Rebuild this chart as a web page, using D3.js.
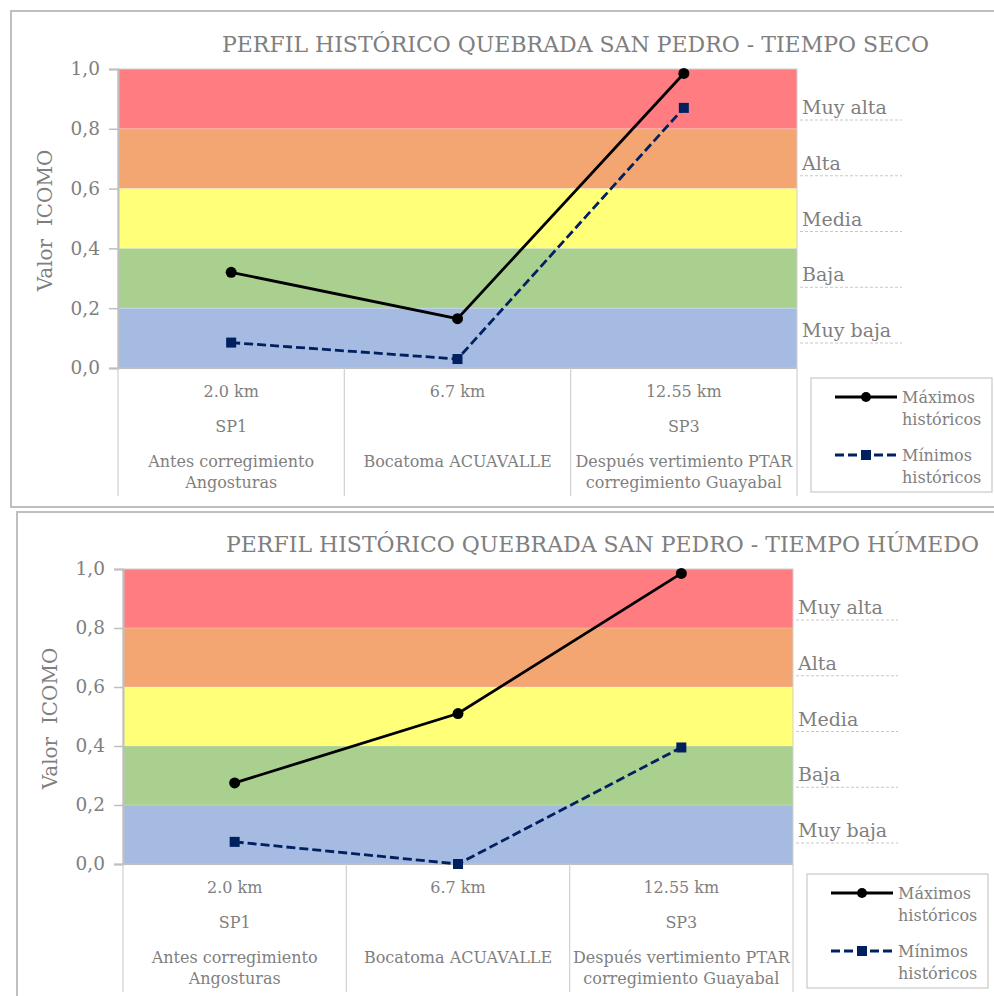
<!DOCTYPE html>
<html>
<head>
<meta charset="utf-8">
<script src="https://cdn.jsdelivr.net/npm/d3@7"></script>
<style>
  html, body { margin: 0; padding: 0; background: #ffffff; }
  svg { display: block; }
  text { font-family: "DejaVu Serif", "Liberation Serif", serif; }
</style>
</head>
<body>
<svg id="chart" width="994" height="996"></svg>
<script>
// ---------------- DATA ----------------
const categories = ["SP1", "SP2", "SP3"];
const distanceLabels = ["2.0 km", "6.7 km", "12.55 km"];
const codeLabels = ["SP1", "", "SP3"];
const siteLabels = [
  ["Antes corregimiento", "Angosturas"],
  ["Bocatoma ACUAVALLE"],
  ["Después vertimiento PTAR", "corregimiento Guayabal"]
];

const secoMax = [0.32, 0.165, 0.985];
const secoMin = [0.085, 0.03, 0.87];
const humedoMax = [0.275, 0.51, 0.985];
const humedoMin = [0.075, 0.0, 0.395];

const bandBreaks = [0.8, 0.6, 0.4, 0.2, 0.0];
const bandTops = [1.0, 0.8, 0.6, 0.4, 0.2];
const bandLabels = ["Muy alta", "Alta", "Media", "Baja", "Muy baja"];
const bandColors = ["#ff7c80", "#f4a672", "#ffff78", "#a9d08e", "#a6bbe1"];

const yTicks = [0, 0.2, 0.4, 0.6, 0.8, 1.0];
const seriesNames = [["Máximos", "históricos"], ["Mínimos", "históricos"]];
const titles = [
  "PERFIL HISTÓRICO QUEBRADA SAN PEDRO - TIEMPO SECO",
  "PERFIL HISTÓRICO QUEBRADA SAN PEDRO - TIEMPO HÚMEDO"
];
const yAxisTitle = "Valor  ICOMO";

// ---------------- LAYOUT ----------------
const panels = [
  { box: {x: 11, y: 11, w: 1100, h: 496}, plot: {l: 118, r: 797, t: 69, b: 368},
    title: titles[0], titleX: 222, titleY: 52, max: secoMax, min: secoMin },
  { box: {x: 17, y: 512, w: 1100, h: 600}, plot: {l: 123, r: 793, t: 569, b: 864},
    title: titles[1], titleX: 226, titleY: 552, max: humedoMax, min: humedoMin }
];

const gray = "#7f7f7f";
const lineGray = "#bfbfbf";
const svg = d3.select("#chart");

panels.forEach(p => {
  const g = svg.append("g");
  const P = p.plot;

  g.append("rect")
    .attr("x", p.box.x).attr("y", p.box.y)
    .attr("width", p.box.w).attr("height", p.box.h)
    .attr("fill", "#fff").attr("stroke", lineGray).attr("stroke-width", 2);

  const y = d3.scaleLinear().domain([0, 1]).range([P.b, P.t]);
  const x = d3.scaleBand().domain(categories).range([P.l, P.r]);
  const cx = d => x(d) + x.bandwidth() / 2;

  g.append("text")
    .attr("x", p.titleX).attr("y", p.titleY)
    .attr("font-size", 22).attr("fill", gray)
    .attr("style", "white-space:pre")
    .text(p.title);

  g.selectAll("rect.band").data(bandLabels).join("rect")
    .attr("class", "band")
    .attr("x", P.l).attr("width", P.r - P.l)
    .attr("y", (d, i) => y(bandTops[i]))
    .attr("height", (d, i) => y(bandBreaks[i]) - y(bandTops[i]))
    .attr("fill", (d, i) => bandColors[i]);

  g.selectAll("line.grid").data(yTicks.slice(1, -1)).join("line")
    .attr("x1", P.l).attr("x2", P.r)
    .attr("y1", d => y(d)).attr("y2", d => y(d))
    .attr("stroke", "#ffffff").attr("stroke-opacity", 0.25).attr("stroke-width", 1);

  g.append("rect")
    .attr("x", P.l).attr("y", P.t).attr("width", P.r - P.l).attr("height", P.b - P.t)
    .attr("fill", "none").attr("stroke", "#d0d0d0").attr("stroke-width", 1);

  const yAxis = d3.axisLeft(y).tickValues(yTicks)
    .tickFormat(d => d3.format(".1f")(d).replace(".", ","))
    .tickSize(9).tickPadding(9);
  const ya = g.append("g").attr("transform", `translate(${P.l},0)`).call(yAxis);
  ya.select(".domain").attr("stroke", lineGray).attr("stroke-width", 2);
  ya.selectAll(".tick line").attr("stroke", lineGray).attr("stroke-width", 1.5);
  ya.selectAll(".tick text").attr("fill", gray).attr("font-size", 18.5)
    .attr("font-family", "DejaVu Serif");

  g.append("text")
    .attr("transform", `translate(${P.l - 72},${(P.t + P.b) / 2 + 2}) rotate(-90)`)
    .attr("text-anchor", "middle").attr("dominant-baseline", "middle")
    .attr("font-size", 20).attr("fill", gray)
    .attr("style", "white-space:pre")
    .text(yAxisTitle);

  g.append("line")
    .attr("x1", P.l).attr("x2", P.r).attr("y1", P.b).attr("y2", P.b)
    .attr("stroke", lineGray).attr("stroke-width", 2);

  const catBottom = P.b + 128;
  const dividers = [P.l].concat(categories.map(c => x(c) + x.bandwidth()));
  g.selectAll("line.div").data(dividers).join("line")
    .attr("x1", d => d).attr("x2", d => d)
    .attr("y1", P.b).attr("y2", catBottom)
    .attr("stroke", "#d0d0d0").attr("stroke-width", 1.2);

  categories.forEach((c, i) => {
    const tx = cx(c);
    g.append("text").attr("x", tx).attr("y", P.b + 29).attr("text-anchor", "middle")
      .attr("font-size", 16).attr("fill", gray).text(distanceLabels[i]);
    if (codeLabels[i]) g.append("text").attr("x", tx).attr("y", P.b + 64).attr("text-anchor", "middle")
      .attr("font-size", 16).attr("fill", gray).text(codeLabels[i]);
    siteLabels[i].forEach((s, j) => {
      g.append("text").attr("x", tx).attr("y", P.b + 99 + j * 21).attr("text-anchor", "middle")
        .attr("font-size", 16).attr("fill", gray).text(s);
    });
  });

  const ly = d3.scalePoint().domain(bandLabels).range([P.t + 51, P.t + 274]);
  bandLabels.forEach(b => {
    g.append("line")
      .attr("x1", P.r + 3).attr("x2", P.r + 105)
      .attr("y1", ly(b)).attr("y2", ly(b))
      .attr("stroke", "#c8c8c8").attr("stroke-width", 1).attr("stroke-dasharray", "3,2");
    g.append("text").attr("x", P.r + 5).attr("y", ly(b) - 6)
      .attr("font-size", 19).attr("fill", gray).text(b);
  });

  const line = d3.line().x((d, i) => cx(categories[i])).y(d => y(d));
  g.append("path").datum(p.min).attr("d", line)
    .attr("fill", "none").attr("stroke", "#002060").attr("stroke-width", 2.8)
    .attr("stroke-dasharray", "9,4");
  g.append("path").datum(p.max).attr("d", line)
    .attr("fill", "none").attr("stroke", "#000000").attr("stroke-width", 2.8);

  g.selectAll("rect.mk").data(p.min).join("rect")
    .attr("class", "mk")
    .attr("x", (d, i) => cx(categories[i]) - 5).attr("y", d => y(d) - 5)
    .attr("width", 10).attr("height", 10).attr("fill", "#002060");
  g.selectAll("circle.mk").data(p.max).join("circle")
    .attr("class", "mk")
    .attr("cx", (d, i) => cx(categories[i])).attr("cy", d => y(d))
    .attr("r", 5.5).attr("fill", "#000000");

  const lx = P.r + 14, lyy = P.b + 10;
  g.append("rect").attr("x", lx).attr("y", lyy).attr("width", 181).attr("height", 114)
    .attr("fill", "#fff").attr("stroke", "#c8c8c8").attr("stroke-width", 1.2);
  const legendY = [19, 77];
  const legendColor = ["#000000", "#002060"];
  legendY.forEach((dy, k) => {
    g.append("line").attr("x1", lx + 24).attr("x2", lx + 86)
      .attr("y1", lyy + dy).attr("y2", lyy + dy)
      .attr("stroke", legendColor[k]).attr("stroke-width", 2.8)
      .attr("stroke-dasharray", k === 1 ? "9,4" : null);
    if (k === 0) {
      g.append("circle").attr("cx", lx + 55).attr("cy", lyy + dy).attr("r", 5).attr("fill", "#000");
    } else {
      g.append("rect").attr("x", lx + 50).attr("y", lyy + dy - 5).attr("width", 10).attr("height", 10)
        .attr("fill", "#002060");
    }
    seriesNames[k].forEach((s, j) => {
      g.append("text").attr("x", lx + 91).attr("y", lyy + dy + 6 + j * 22)
        .attr("font-size", 16).attr("fill", gray).text(s);
    });
  });
});
</script>
</body>
</html>
